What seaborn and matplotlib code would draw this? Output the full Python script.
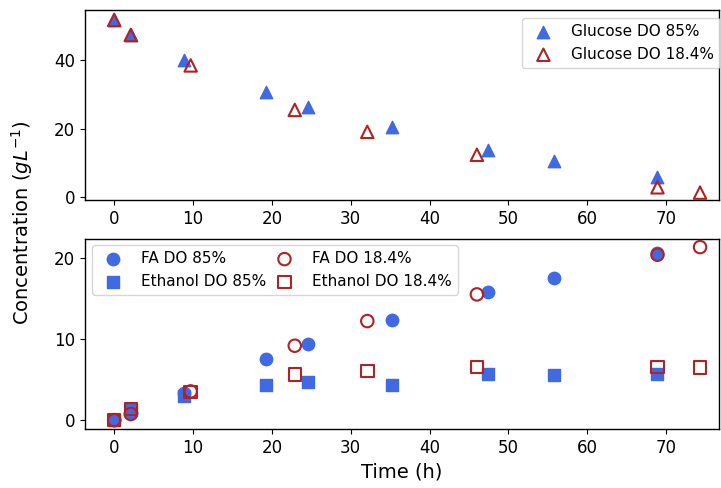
import matplotlib
matplotlib.use("Agg")
import matplotlib.pyplot as plt
import seaborn as sns
import pandas as pd

# Sampling times (h)
time_do85 = [0, 2.1, 8.9, 19.3, 24.6, 35.2, 47.4, 55.8, 68.9]
time_do18 = [0, 2.1, 9.7, 22.9, 32.1, 46.0, 68.9, 74.3]

# Concentrations (g/L)
glucose_do85 = [51.8, 47.4, 40.1, 30.7, 26.5, 20.4, 13.8, 10.6, 6.0]
glucose_do18 = [51.8, 47.4, 38.5, 25.5, 19.1, 12.4, 2.9, 1.35]
fa_do85 = [0, 0.9, 3.3, 7.6, 9.4, 12.35, 15.8, 17.6, 20.65]
fa_do18 = [0, 0.75, 3.55, 9.2, 12.25, 15.55, 20.45, 21.4]
ethanol_do85 = [0, 1.25, 3.0, 4.4, 4.75, 4.3, 5.65, 5.55, 5.65]
ethanol_do18 = [0, 1.35, 3.5, 5.65, 6.1, 6.6, 6.6, 6.5]

x_ticks = [0, 10, 20, 30, 40, 50, 60, 70]

BLUE = "royalblue"
RED = "firebrick"
S = 80

df85 = pd.DataFrame({"t": time_do85, "glc": glucose_do85, "fa": fa_do85, "eth": ethanol_do85})
df18 = pd.DataFrame({"t": time_do18, "glc": glucose_do18, "fa": fa_do18, "eth": ethanol_do18})

fig = plt.figure(figsize=(7.21, 4.88), dpi=100)
ax1 = fig.add_axes([0.1179, 0.5895, 0.8793, 0.3894])
ax2 = fig.add_axes([0.1179, 0.1209, 0.8793, 0.3893])

def filled(ax, df, col, marker, label):
    sns.scatterplot(data=df, x="t", y=col, marker=marker, s=S, color=BLUE,
                    edgecolor=BLUE, linewidth=1, ax=ax, label=label, zorder=3)

def hollow(ax, df, col, marker, label):
    sns.scatterplot(data=df, x="t", y=col, marker=marker, s=S, facecolor="none",
                    edgecolor=RED, linewidth=1.5, ax=ax, label=label, zorder=4)

filled(ax1, df85, "glc", "^", "Glucose DO 85%")
hollow(ax1, df18, "glc", "^", "Glucose DO 18.4%")

filled(ax2, df85, "fa", "o", "FA DO 85%")
filled(ax2, df85, "eth", "s", "Ethanol DO 85%")
hollow(ax2, df18, "fa", "o", "FA DO 18.4%")
hollow(ax2, df18, "eth", "s", "Ethanol DO 18.4%")

for ax in (ax1, ax2):
    ax.set_xlim(-3.7, 76.7)
    ax.set_xticks(x_ticks)
    ax.tick_params(labelsize=12)
    ax.set_ylabel("")
    for sp in ax.spines.values():
        sp.set_color("black")
        sp.set_linewidth(1.0)

ax1.set_ylim(-0.9, 54.6)
ax1.set_yticks([0, 20, 40])
ax2.set_ylim(-1.1, 22.4)
ax2.set_yticks([0, 10, 20])
ax1.set_xlabel("")
ax2.set_xlabel("Time (h)", fontsize=14)

h1, l1 = ax1.get_legend_handles_labels()
ax1.legend(h1, l1, loc="upper right", fontsize=11, scatterpoints=1,
           bbox_to_anchor=(720 / 721, 1 - 18 / 488), bbox_transform=fig.transFigure,
           borderaxespad=0)

h2, l2 = ax2.get_legend_handles_labels()
ax2.legend(h2, l2, loc="upper left", ncol=2, fontsize=11, scatterpoints=1,
           bbox_to_anchor=(92 / 721, 1 - 245 / 488), bbox_transform=fig.transFigure,
           borderaxespad=0, columnspacing=0.2)

fig.text(22 / 721, 1 - 223 / 488, "Concentration ($gL^{-1}$)", rotation=90,
         ha="center", va="center", fontsize=14)

fig.savefig("out.png", dpi=100)
